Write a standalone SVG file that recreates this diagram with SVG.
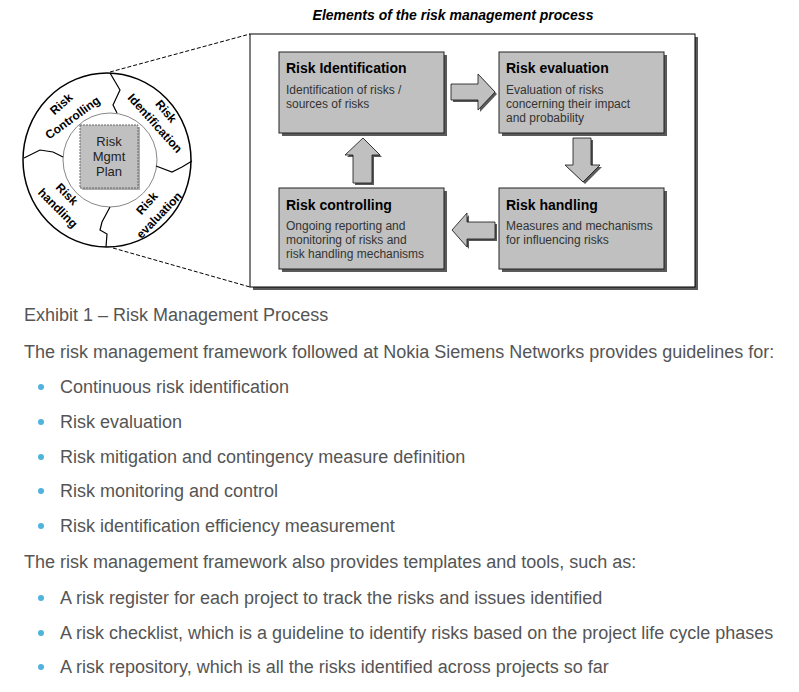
<svg xmlns="http://www.w3.org/2000/svg" width="799" height="692" viewBox="0 0 799 692">
<style>
.t{font-family:"Liberation Sans",Arial,sans-serif}
.bt{font-family:"Liberation Sans",Arial,sans-serif;font-weight:bold;font-size:14px;fill:#000}
.bd{font-family:"Liberation Sans",Arial,sans-serif;font-size:12px;fill:#333}
.box{fill:#c0c0c0;stroke:#222;stroke-width:1}
.sh{fill:#5a5a5a}
.arr{fill:#c0c0c0;stroke:#111;stroke-width:0.8}
.seg{font-family:"Liberation Sans",Arial,sans-serif;font-weight:bold;font-size:12px;fill:#000;text-anchor:middle}
.p{font-family:"Liberation Sans",Arial,sans-serif;font-size:18px;fill:#555}
.dot{fill:#4fb3dc}
.dash{stroke:#000;stroke-width:1;stroke-dasharray:4,2;fill:none}
.sep{stroke:#000;stroke-width:1.2;fill:none}
</style>
<rect width="799" height="692" fill="#fff"/>
<g id="title"><text class="t" x="453" y="20" text-anchor="middle" font-size="14" font-weight="bold" font-style="italic">Elements of the risk management process</text></g>
<g id="frame">
<rect x="253" y="37" width="445" height="253" class="sh"/>
<rect x="250" y="34" width="445" height="253" fill="#fff" stroke="#000" stroke-width="1"/>
</g>
<g id="wheel">
<ellipse cx="107" cy="160" rx="84" ry="87" fill="#fff" stroke="#000" stroke-width="1.5"/>
<circle cx="110" cy="160" r="47" fill="#fff" stroke="#888" stroke-width="1"/>
<polyline class="sep" points="110,73 120,90 113,105 117,113"/>
<polyline class="sep" points="156,166 172,172 182,167 192,161"/>
<polyline class="sep" points="110,207 102,222 100,230 107,234 106,247"/>
<polyline class="sep" points="24,158 40,150 53,152 63,157"/>
<text class="seg" transform="translate(64,107) rotate(-42)">Risk</text>
<text class="seg" transform="translate(75,121) rotate(-36)">Controlling</text>
<text class="seg" transform="translate(163,114) rotate(50)">Risk</text>
<text class="seg" transform="translate(152,126) rotate(48)">Identification</text>
<text class="seg" transform="translate(150,206) rotate(-48)">Risk</text>
<text class="seg" transform="translate(162,218) rotate(-46)">evaluation</text>
<text class="seg" transform="translate(64,197) rotate(45)">Risk</text>
<text class="seg" transform="translate(55,211) rotate(45)">handling</text>
</g>
<g id="plan">
<rect x="82" y="127" width="58" height="63" class="sh" opacity="0.5"/>
<rect x="80" y="125" width="58" height="63" fill="#c0c0c0" stroke="#666" stroke-width="1" stroke-dasharray="2,1"/>
<text class="t" x="109" y="146" font-size="13" text-anchor="middle" fill="#222">Risk</text>
<text class="t" x="109" y="161" font-size="13" text-anchor="middle" fill="#222">Mgmt</text>
<text class="t" x="109" y="176" font-size="13" text-anchor="middle" fill="#222">Plan</text>
</g>
<g id="connectors">
<line class="dash" x1="110" y1="72" x2="250" y2="34"/>
<line class="dash" x1="113" y1="248" x2="250" y2="287"/>
<polygon class="sh" points="453,86 480,86 480,76 497,94 480,112 480,102 453,102"/>
<polygon class="arr" points="451,84 478,84 478,74 495,92 478,110 478,100 451,100"/>
<polygon class="sh" points="575,140 593,140 593,167 602,167 585,184 567,167 575,167"/>
<polygon class="arr" points="573,138 591,138 591,165 600,165 583,182 565,165 573,165"/>
<polygon class="sh" points="365,140 382,157 374,157 374,185 355,185 355,157 347,157"/>
<polygon class="arr" points="363,138 380,155 372,155 372,183 353,183 353,155 345,155"/>
<polygon class="sh" points="454,232 469,215 469,224 497,224 497,241 469,241 469,249"/>
<polygon class="arr" points="452,230 467,213 467,222 495,222 495,239 467,239 467,247"/>
</g>
<g id="risk-identification">
<rect x="282" y="55" width="165" height="81" class="sh"/>
<rect x="279" y="52" width="165" height="81" class="box"/>
<text class="bt" x="286" y="73">Risk Identification</text>
<text class="bd" x="286" y="94">Identification of risks /</text>
<text class="bd" x="286" y="108">sources of risks</text>
</g>
<g id="risk-evaluation">
<rect x="502" y="55" width="165" height="81" class="sh"/>
<rect x="499" y="52" width="165" height="81" class="box"/>
<text class="bt" x="506" y="73">Risk evaluation</text>
<text class="bd" x="506" y="94">Evaluation of risks</text>
<text class="bd" x="506" y="108">concerning their impact</text>
<text class="bd" x="506" y="122">and probability</text>
</g>
<g id="risk-controlling">
<rect x="282" y="191" width="165" height="81" class="sh"/>
<rect x="279" y="188" width="165" height="81" class="box"/>
<text class="bt" x="286" y="210">Risk controlling</text>
<text class="bd" x="286" y="230">Ongoing reporting and</text>
<text class="bd" x="286" y="244">monitoring of risks and</text>
<text class="bd" x="286" y="258">risk handling mechanisms</text>
</g>
<g id="risk-handling">
<rect x="502" y="191" width="165" height="81" class="sh"/>
<rect x="499" y="188" width="165" height="81" class="box"/>
<text class="bt" x="506" y="210">Risk handling</text>
<text class="bd" x="506" y="230">Measures and mechanisms</text>
<text class="bd" x="506" y="244">for influencing risks</text>
</g>
<g id="body">
<text class="p" x="24" y="321">Exhibit 1 – Risk Management Process</text>
<text class="p" x="24" y="358">The risk management framework followed at Nokia Siemens Networks provides guidelines for:</text>
<circle class="dot" cx="41" cy="387" r="3"/><text class="p" x="60" y="393">Continuous risk identification</text>
<circle class="dot" cx="41" cy="422" r="3"/><text class="p" x="60" y="428">Risk evaluation</text>
<circle class="dot" cx="41" cy="457" r="3"/><text class="p" x="60" y="463">Risk mitigation and contingency measure definition</text>
<circle class="dot" cx="41" cy="491" r="3"/><text class="p" x="60" y="497">Risk monitoring and control</text>
<circle class="dot" cx="41" cy="526" r="3"/><text class="p" x="60" y="532">Risk identification efficiency measurement</text>
<text class="p" x="24" y="568">The risk management framework also provides templates and tools, such as:</text>
<circle class="dot" cx="41" cy="598" r="3"/><text class="p" x="60" y="604">A risk register for each project to track the risks and issues identified</text>
<circle class="dot" cx="41" cy="633" r="3"/><text class="p" x="60" y="639">A risk checklist, which is a guideline to identify risks based on the project life cycle phases</text>
<circle class="dot" cx="41" cy="667" r="3"/><text class="p" x="60" y="673">A risk repository, which is all the risks identified across projects so far</text>
</g>
</svg>
